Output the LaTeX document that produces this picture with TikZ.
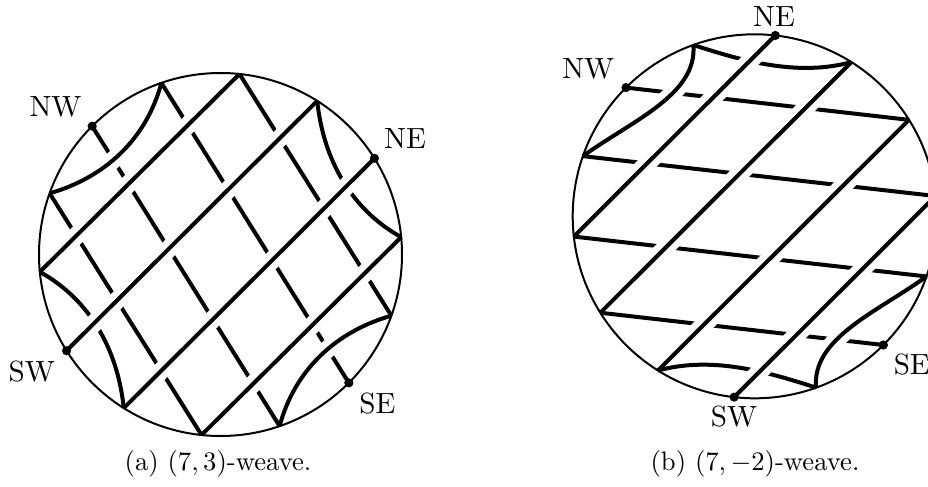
\documentclass[tikz,border=0pt]{standalone}
\usepackage{tikz}

\tikzset{
  strand/.style={line width=1.5pt},
  halo/.style={white, line width=6.6pt},
  rim/.style={line width=0.75pt},
  knot/.style={fill=black},
  lbl/.style={font=\fontsize{10.95}{13}\selectfont},
}

\begin{document}
\begin{tikzpicture}[x=0.375pt,y=0.375pt,yscale=-1,xscale=1]
\path[use as bounding box] (0,0) rectangle (928,486);

%Disc (a) -- (7,3)-weave
\begin{scope}[shift={(220.5,254.5)},yscale=-1]
\def\R{181.5}
\foreach \ang/\nm in {185.5/p1, 237.8/p2, 264/p3, 289/p4, 340.3/p5, 5.5/p6, 57.8/p7, 84/p8, 109/p9, 160.3/p10, 135/NW, 315/SE, 212/SW, 32/NE}
  \coordinate (a\nm) at (\ang:\R);
% under strands
\draw[strand] (ap10) -- (ap3);
\draw[strand] (aNW) -- (ap4);
\draw[strand] (ap9) -- (aSE);
\draw[strand] (ap8) -- (ap5);
\draw[strand] (ap1) .. controls +(-29:58) and +(96:58) .. (ap2);
\draw[strand] (ap6) .. controls +(151:58) and +(276:58) .. (ap7);
% gaps under the over strands
\begin{scope}
\clip (0,0) circle (\R-15);
\draw[halo] (ap1) -- (ap8) (aSW) -- (ap7) (ap2) -- (aNE) (ap3) -- (ap6);
\draw[halo] (ap10) .. controls +(16:58) and +(255:58) .. (ap9);
\draw[halo] (ap5) .. controls +(196:58) and +(75:58) .. (ap4);
\end{scope}
% over strands
\draw[strand] (ap1) -- (ap8);
\draw[strand] (aSW) -- (ap7);
\draw[strand] (ap2) -- (aNE);
\draw[strand] (ap3) -- (ap6);
\draw[strand] (ap10) .. controls +(16:58) and +(255:58) .. (ap9);
\draw[strand] (ap5) .. controls +(196:58) and +(75:58) .. (ap4);
\draw[rim] (0,0) circle (\R);
\foreach \nm in {NW,SE,SW,NE}
  \fill[knot] (a\nm) circle (4.6);
\end{scope}

%Disc (b) -- (7,-2)-weave
\begin{scope}[shift={(754.7,216.3)},yscale=-1]
\def\R{182}
\foreach \ang/\nm in {186.4/k1, 212/k2, 237.9/k3, 289.7/k4, 340.7/k5, 6.4/k6, 32/k7, 57.9/k8, 109.7/k9, 160.7/k10, 83.5/NE, 263.5/SW, 135/NW, 315/SE}
  \coordinate (b\nm) at (\ang:\R);
% under strands
\draw[strand] (bNW) -- (bk7);
\draw[strand] (bk10) -- (bk6);
\draw[strand] (bk1) -- (bk5);
\draw[strand] (bk2) -- (bSE);
\draw[strand] (bk9) .. controls +(-18:55) and +(195:55) .. (bk8);
\draw[strand] (bk4) .. controls +(162:55) and +(15:55) .. (bk3);
% gaps under the over strands
\begin{scope}
\clip (0,0) circle (\R-15);
\draw[halo] (bk1) -- (bNE) (bk2) -- (bk8) (bk3) -- (bk7) (bSW) -- (bk6);
\draw[halo] (bk9) .. controls +(-85:50) and +(36:60) .. (bk10);
\draw[halo] (bk4) .. controls +(95:50) and +(216:60) .. (bk5);
\end{scope}
% over strands
\draw[strand] (bk1) -- (bNE);
\draw[strand] (bk2) -- (bk8);
\draw[strand] (bk3) -- (bk7);
\draw[strand] (bSW) -- (bk6);
\draw[strand] (bk9) .. controls +(-85:50) and +(36:60) .. (bk10);
\draw[strand] (bk4) .. controls +(95:50) and +(216:60) .. (bk5);
\draw[rim] (0,0) circle (\R);
\foreach \nm in {NW,SE,SW,NE}
  \fill[knot] (b\nm) circle (4.6);
\end{scope}

% Text Node
\node[lbl] (lblNWa) at (55.5,106.7) {NW};
\node[lbl] (lblNEa) at (405,138.3) {NE};
\node[lbl] (lblSWa) at (31.7,371.7) {SW};
\node[lbl] (lblSEa) at (377.5,404) {SE};
\node[lbl] (lblNWb) at (588.3,68.8) {NW};
\node[lbl] (lblNEb) at (774,16.7) {NE};
\node[lbl] (lblSWb) at (734,417) {SW};
\node[lbl] (lblSEb) at (911.8,365) {SE};
% Captions
\node (capA) at (218,464) {(a) $(7,3)$-weave.};
\node (capB) at (755,464) {(b) $(7,-2)$-weave.};

\end{tikzpicture}
\end{document}
